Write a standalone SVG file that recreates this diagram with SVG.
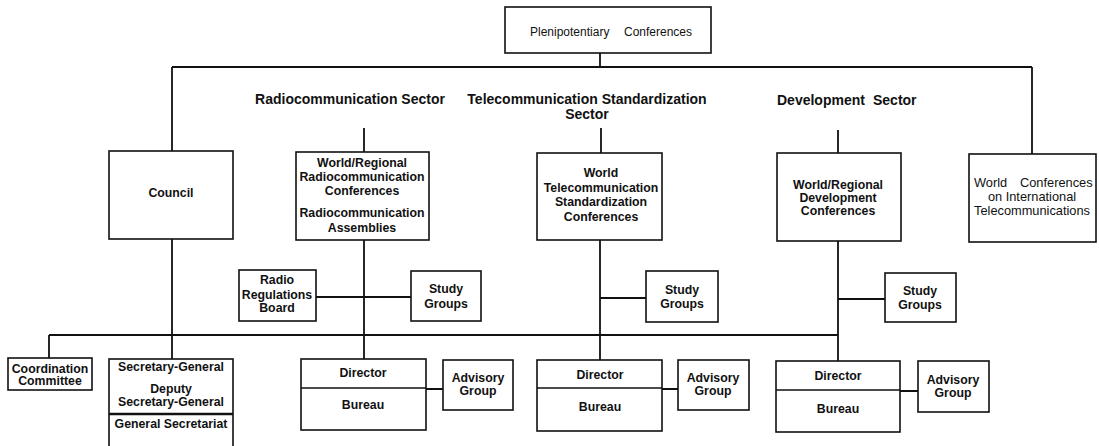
<svg xmlns="http://www.w3.org/2000/svg" width="1099" height="446" viewBox="0 0 1099 446">
<style>
.bg{fill:#fff}
.box{fill:#fff;stroke:#111;stroke-width:1.6}
.ln{stroke:#111;stroke-width:1.8;fill:none}
.div{stroke:#111;stroke-width:1.6}
.t{font-family:"Liberation Sans",Arial,Helvetica,sans-serif;font-weight:bold;font-size:12.3px;fill:#111;text-anchor:middle}
.sec{font-size:14px}
.reg{font-weight:normal;font-size:12.8px}
</style>
<rect class="bg" x="0" y="0" width="1099" height="446"/>

<g id="connectors">
<path class="ln" d="M600,53 V67 M172,67 H1032 M172,67 V151 M1032,67 V154"/>
<path class="ln" d="M364,128 V152 M601,128 V153 M838,130 V153"/>
<path class="ln" d="M172,239 V359 M364,240 V359 M600,240 V360 M838,241 V361"/>
<path class="ln" d="M316,297 H411 M600,298 H646 M838,299 H885"/>
<path class="ln" d="M49,335 H838 M49,335 V358"/>
<path class="ln" d="M426,389 H443 M662,389 H678 M900,391 H918"/>
</g>

<g id="sector-labels">
<text class="t sec" x="350" y="104">Radiocommunication Sector</text>
<text class="t sec" x="587" y="104">Telecommunication Standardization</text>
<text class="t sec" x="587" y="119">Sector</text>
<text class="t sec" x="849" y="105"><tspan x="777" style="text-anchor:start">Development</tspan><tspan x="873" style="text-anchor:start">Sector</tspan></text>
</g>

<g id="plenipotentiary">
<rect class="box" x="505" y="7" width="206" height="46"/>
<text class="t reg" style="text-anchor:start;font-size:12px" y="36"><tspan x="530">Plenipotentiary</tspan><tspan x="624">Conferences</tspan></text>
</g>

<g id="council">
<rect class="box" x="109" y="151" width="124" height="88"/>
<text class="t" x="171" y="197">Council</text>
</g>

<g id="radio-conferences">
<rect class="box" x="296" y="152" width="133" height="88"/>
<text class="t" x="362" y="167">World/Regional</text>
<text class="t" x="362" y="181">Radiocommunication</text>
<text class="t" x="362" y="195">Conferences</text>
<text class="t" x="362" y="217">Radiocommunication</text>
<text class="t" x="362" y="232">Assemblies</text>
</g>

<g id="tsc-conferences">
<rect class="box" x="537" y="153" width="125" height="87"/>
<text class="t" x="601" y="177">World</text>
<text class="t" x="601" y="192">Telecommunication</text>
<text class="t" x="601" y="206">Standardization</text>
<text class="t" x="601" y="221">Conferences</text>
</g>

<g id="dev-conferences">
<rect class="box" x="777" y="153" width="124" height="88"/>
<text class="t" x="838" y="189">World/Regional</text>
<text class="t" x="838" y="202">Development</text>
<text class="t" x="838" y="215">Conferences</text>
</g>

<g id="wcit">
<rect class="box" x="969" y="154" width="127" height="88"/>
<text class="t reg" y="187" style="text-anchor:start"><tspan x="974">World</tspan><tspan x="1020">Conferences</tspan></text>
<text class="t reg" x="1032" y="201">on International</text>
<text class="t reg" x="1032" y="215">Telecommunications</text>
</g>

<g id="radio-regulations-board">
<rect class="box" x="239" y="270" width="77" height="51"/>
<text class="t" x="277" y="284">Radio</text>
<text class="t" x="277" y="299">Regulations</text>
<text class="t" x="277" y="312">Board</text>
</g>

<g id="radio-study-groups">
<rect class="box" x="411" y="271" width="70" height="50"/>
<text class="t" x="446" y="293">Study</text>
<text class="t" x="446" y="308">Groups</text>
</g>

<g id="tsc-study-groups">
<rect class="box" x="646" y="271" width="72" height="51"/>
<text class="t" x="682" y="294">Study</text>
<text class="t" x="682" y="308">Groups</text>
</g>

<g id="dev-study-groups">
<rect class="box" x="885" y="273" width="71" height="49"/>
<text class="t" x="920" y="295">Study</text>
<text class="t" x="920" y="309">Groups</text>
</g>

<g id="coordination-committee">
<rect class="box" x="8" y="358" width="84" height="32"/>
<text class="t" x="50" y="373">Coordination</text>
<text class="t" x="50" y="385">Committee</text>
</g>

<g id="secretary-general">
<rect class="box" x="109" y="359" width="124" height="95"/>
<line class="div" x1="109" y1="414" x2="233" y2="414" style="stroke-width:2.4"/>
<text class="t" x="171" y="371">Secretary-General</text>
<text class="t" x="171" y="393">Deputy</text>
<text class="t" x="171" y="406">Secretary-General</text>
<text class="t" x="171" y="428">General Secretariat</text>
</g>

<g id="radio-bureau">
<rect class="box" x="301" y="359" width="125" height="71"/>
<line class="div" x1="301" y1="388" x2="426" y2="388"/>
<text class="t" x="363" y="377">Director</text>
<text class="t" x="363" y="409">Bureau</text>
</g>

<g id="radio-advisory">
<rect class="box" x="443" y="360" width="70" height="50"/>
<text class="t" x="478" y="382">Advisory</text>
<text class="t" x="478" y="395">Group</text>
</g>

<g id="tsc-bureau">
<rect class="box" x="537" y="360" width="125" height="71"/>
<line class="div" x1="537" y1="388" x2="662" y2="388"/>
<text class="t" x="600" y="379">Director</text>
<text class="t" x="600" y="411">Bureau</text>
</g>

<g id="tsc-advisory">
<rect class="box" x="678" y="360" width="71" height="50"/>
<text class="t" x="713" y="382">Advisory</text>
<text class="t" x="713" y="395">Group</text>
</g>

<g id="dev-bureau">
<rect class="box" x="776" y="361" width="124" height="71"/>
<line class="div" x1="776" y1="390" x2="900" y2="390"/>
<text class="t" x="838" y="380">Director</text>
<text class="t" x="838" y="413">Bureau</text>
</g>

<g id="dev-advisory">
<rect class="box" x="918" y="361" width="71" height="51"/>
<text class="t" x="953" y="384">Advisory</text>
<text class="t" x="953" y="397">Group</text>
</g>
</svg>
